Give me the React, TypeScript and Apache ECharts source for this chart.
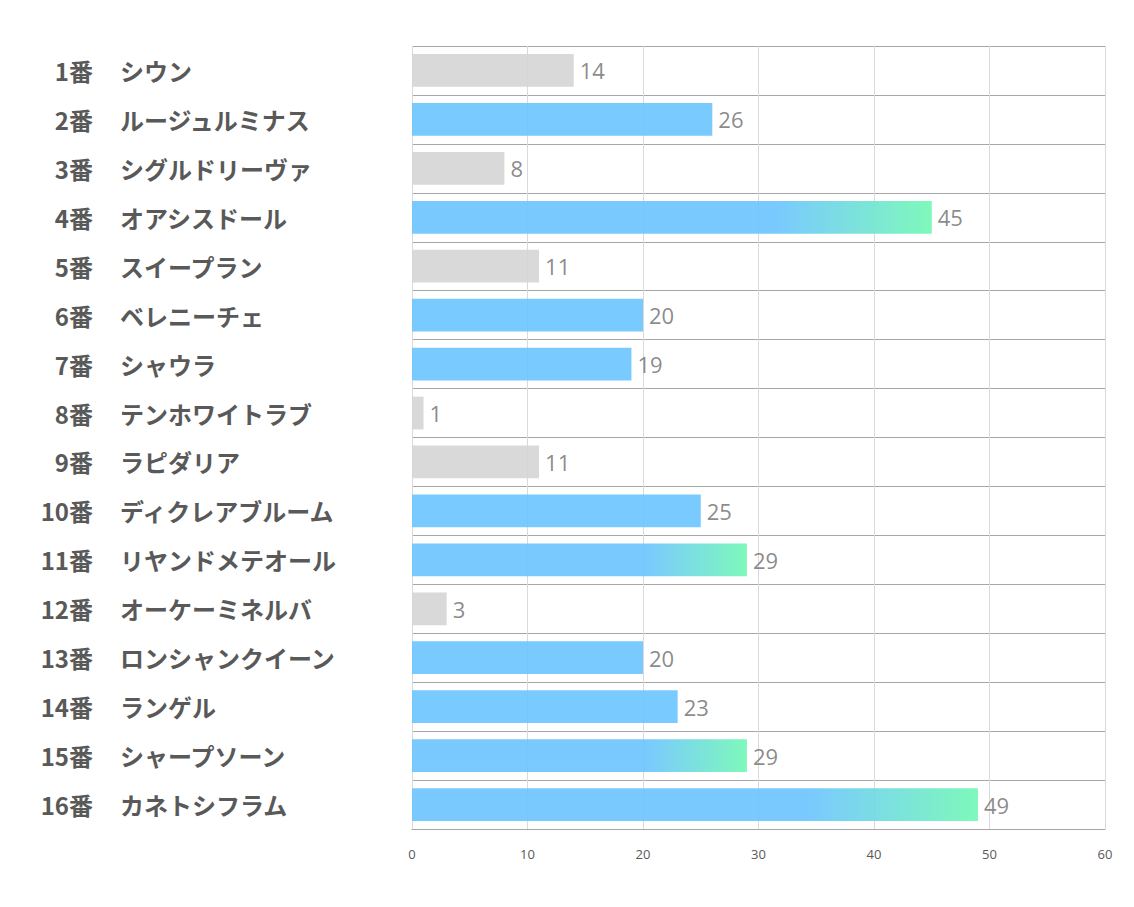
import React, { useEffect, useRef } from "react";
import * as echarts from "echarts";

const horseNumbers = ["1番", "2番", "3番", "4番", "5番", "6番", "7番", "8番", "9番", "10番", "11番", "12番", "13番", "14番", "15番", "16番"];
const horseNames = ["シウン", "ルージュルミナス", "シグルドリーヴァ", "オアシスドール", "スイープラン", "ベレニーチェ", "シャウラ", "テンホワイトラブ", "ラピダリア", "ディクレアブルーム", "リヤンドメテオール", "オーケーミネルバ", "ロンシャンクイーン", "ランゲル", "シャープソーン", "カネトシフラム"];
const scores = [14, 26, 8, 45, 11, 20, 19, 1, 11, 25, 29, 3, 20, 23, 29, 49];
const xTicks = [0, 10, 20, 30, 40, 50, 60];

const GRAY = "rgb(214,214,214)";
const BLUE = "rgb(110,197,255)";
const GREEN = "rgb(115,248,181)";

function barColor(v: number) {
  if (v < 15) return GRAY;
  if (v < 27) return BLUE;
  return new echarts.graphic.LinearGradient(0, 0, 1, 0, [
    { offset: 0, color: BLUE },
    { offset: 0.7, color: BLUE },
    { offset: 1, color: GREEN },
  ]);
}

export default function App() {
  const ref = useRef<HTMLDivElement>(null);
  useEffect(() => {
    if (!ref.current) return;
    const chart = echarts.init(ref.current, null, { renderer: "svg" });
    const labelFont = {
      fontSize: 24,
      fontWeight: "bold",
      color: "#595959",
      fontFamily: "Noto Sans CJK JP",
    };
    chart.setOption({
      animation: false,
      backgroundColor: "#ffffff",
      grid: { left: 412, right: 29, top: 46, bottom: 78, containLabel: false },
      xAxis: {
        type: "value",
        min: xTicks[0],
        max: xTicks[xTicks.length - 1],
        interval: 10,
        axisLine: { show: true, lineStyle: { color: "#A6A6A6", width: 1 } },
        axisTick: { show: false },
        axisLabel: {
          margin: 18,
          color: "#595959",
          fontSize: 13,
          fontFamily: "Open Sans",
        },
        splitLine: { show: true, lineStyle: { color: "#D9D9D9", width: 1 } },
      },
      yAxis: [
        {
          type: "category",
          inverse: true,
          position: "left",
          data: horseNumbers,
          axisLine: { show: false },
          axisTick: { show: false },
          splitLine: { show: true, lineStyle: { color: "#A6A6A6", width: 1 } },
          axisLabel: { margin: 319, align: "right", ...labelFont },
        },
        {
          type: "category",
          inverse: true,
          position: "left",
          data: horseNames,
          axisLine: { show: false },
          axisTick: { show: false },
          splitLine: { show: false },
          axisLabel: { margin: 292, align: "left", ...labelFont },
        },
      ],
      series: [
        {
          type: "bar",
          yAxisIndex: 0,
          barCategoryGap: "33%",
          data: scores.map((v) => ({
            value: v,
            itemStyle: { color: barColor(v), opacity: 0.92 },
          })),
          label: {
            show: true,
            position: "right",
            distance: 6,
            color: "#7F7F7F",
            fontSize: 22,
            fontFamily: "Open Sans",
          },
        },
      ],
    });
    return () => chart.dispose();
  }, []);
  return (
    <div
      ref={ref}
      style={{ position: "fixed", left: 0, top: 0, width: 1134, height: 907 }}
    />
  );
}
